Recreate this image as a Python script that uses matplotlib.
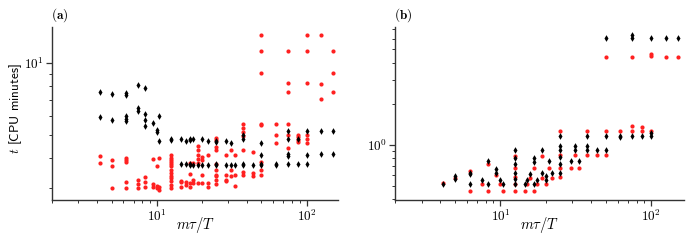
import math

import matplotlib
matplotlib.use("Agg")
import matplotlib.pyplot as plt
from matplotlib.ticker import LogLocator, NullFormatter, FuncFormatter

plt.rcParams["mathtext.fontset"] = "cm"

# panel (a): x columns (m tau / T) and CPU minutes at each column
a_x = [4.17, 5.0, 6.25, 7.5, 8.33, 9.4, 10.0, 10.4, 12.5, 14.6, 15.6, 16.7, 17.4,
       18.75, 20.0, 21.9, 25.0, 29.2, 31.2, 33.3, 37.5, 43.75, 50.0, 62.5, 75.0,
       87.5, 100.0, 125.0, 150.0]
a_black = [
    [7.6, 5.93], [7.4, 5.78], [7.5, 7.35, 5.97, 5.82, 5.69], [8.1, 6.48, 6.32],
    [7.9, 6.12, 5.78, 5.47], [5.63], [5.25, 5.16], [5.97, 4.69], [4.8, 4.75],
    [4.8, 3.77], [4.72, 3.77], [4.8, 4.75, 3.77, 3.73], [4.78, 3.73], [3.73],
    [4.78, 3.73], [4.72, 3.73], [4.72, 4.68, 3.77, 3.73], [4.69, 3.73], [4.62, 3.73],
    [3.73], [5.0, 4.78, 3.77, 3.73], [3.73], [4.62, 4.1, 3.77, 3.73], [3.76, 3.73],
    [5.18, 4.79, 4.16, 4.08, 3.78], [4.79, 3.77], [5.21, 4.12, 3.77], [5.21, 4.15],
    [5.21, 4.14],
]
a_red = [
    [4.08, 3.8], [3.93, 3.7, 3.0], [4.0, 3.93, 3.83, 3.18, 3.0], [3.24, 3.11, 3.0],
    [3.32, 3.16, 3.03], [3.95, 3.11, 3.03], [3.7, 3.06, 3.0], [4.0, 3.03, 2.92],
    [4.12, 4.0, 3.93, 3.83, 3.78, 3.7, 3.56, 3.45, 3.36, 3.29, 3.21, 3.08, 3.0],
    [3.2, 3.16, 3.03], [3.17, 3.08], [3.8, 3.42, 3.13, 3.03], [3.8, 3.24, 3.13],
    [4.5, 4.3, 4.12, 3.95, 3.8, 3.13], [4.05, 3.9, 3.38, 3.13], [4.12, 3.13, 3.03],
    [4.85, 4.77, 4.43, 4.33, 3.77, 3.56, 3.4, 3.36, 3.24, 3.1], [4.12, 3.4, 3.24, 3.2],
    [4.33, 3.56, 3.36], [4.12, 3.4, 3.05], [5.57, 5.35, 5.15, 4.95, 4.33, 3.5, 3.4],
    [4.22, 3.45, 3.36], [13.1, 11.3, 9.1, 5.57, 5.52, 3.85, 3.56, 3.38],
    [5.57, 5.0, 4.6], [11.3, 8.24, 7.55, 5.57, 5.0, 4.38], [5.0, 4.9, 4.77, 4.66],
    [13.1, 11.3, 8.24, 5.0, 4.8, 4.6], [13.1, 8.2, 7.06], [11.3, 9.1, 7.55],
]

# panel (b)
b_x = [4.17, 5.0, 6.25, 7.5, 8.33, 9.4, 10.0, 10.4, 12.5, 14.6, 15.0, 15.7, 16.6,
       17.5, 18.9, 20.1, 20.9, 22.0, 25.0, 29.2, 31.2, 33.3, 37.5, 43.75, 50.0,
       62.5, 75.0, 87.5, 100.0, 125.0, 150.0]
b_black = [
    [0.52], [0.59, 0.567], [0.623, 0.617, 0.514], [0.551], [0.761, 0.52],
    [0.664, 0.623], [0.551], [0.52], [0.918, 0.797, 0.72, 0.623, 0.567, 0.52],
    [0.514], [0.551], [0.61], [0.797, 0.752, 0.52], [0.551], [0.918, 0.623],
    [0.59, 0.551], [0.761], [0.623], [1.166, 0.983, 0.918, 0.819, 0.723, 0.623],
    [0.761], [0.983, 0.918], [0.761], [1.166, 0.983, 0.918], [0.918],
    [6.1, 1.166, 0.918], [1.166, 1.145], [6.4, 6.1, 1.166], [1.166],
    [6.1, 1.22, 1.166], [6.1], [6.1],
]
b_red = [
    [0.526], [0.573], [0.645, 0.459], [0.52], [0.723, 0.459], [0.6], [0.52], [0.459],
    [0.833, 0.672, 0.582, 0.514, 0.459], [0.459], [0.514], [0.576], [0.672, 0.459],
    [0.514], [0.833, 0.576], [0.52], [0.679], [0.576], [1.255, 0.843, 0.679, 0.582],
    [0.679], [0.843], [0.679], [1.255, 0.843], [0.843], [4.39, 1.255, 0.843],
    [1.255], [4.39, 1.366, 1.27], [1.35, 1.255], [4.6, 4.5, 1.255], [4.39], [4.39],
]


def flat(xs, cols):
    px = [x for x, c in zip(xs, cols) for _ in c]
    py = [y for c in cols for y in c]
    return px, py


def decade(v, pos):
    return r"$10^{%d}$" % round(math.log10(v))


fig = plt.figure(figsize=(6.92, 2.42), dpi=100)
ax1 = fig.add_axes([0.0751, 0.1736, 0.4133, 0.7149])
ax2 = fig.add_axes([0.5708, 0.1736, 0.4176, 0.7149])

panels = [(ax1, a_x, a_black, a_red, (2.66, 14.2), (2, 162), "(a)"),
          (ax2, b_x, b_black, b_red, (0.395, 7.3), (2, 165), "(b)")]

for ax, xs, blk, red, ylim, xlim, tag in panels:
    bx, by = flat(xs, blk)
    rx, ry = flat(xs, red)
    ax.plot(rx, ry, "o", color="#ff2020", ms=3.0, mec="none")
    ax.plot(bx, by, "d", color="black", ms=3.4, mec="none")
    ax.set_xscale("log")
    ax.set_yscale("log")
    ax.set_xlim(*xlim)
    ax.set_ylim(*ylim)
    for axis in (ax.xaxis, ax.yaxis):
        axis.set_major_locator(LogLocator(base=10))
        axis.set_minor_locator(LogLocator(base=10, subs=range(2, 10)))
        axis.set_major_formatter(FuncFormatter(decade))
        axis.set_minor_formatter(NullFormatter())
    for s in ("top", "right"):
        ax.spines[s].set_visible(False)
    for s in ("left", "bottom"):
        ax.spines[s].set_color("#333333")
        ax.spines[s].set_linewidth(1.0)
    ax.tick_params(which="major", length=4, width=0.9, color="#333333", labelsize=9.5, pad=2)
    ax.tick_params(which="minor", length=2.5, width=0.7, color="#333333")
    ax.set_xlabel(r"$m\tau/T$", fontsize=10.5, va="center")
    ax.xaxis.set_label_coords(0.5, -0.145)
    ax.text(-0.005, 1.02, r"$\mathbf{%s}$" % tag, transform=ax.transAxes,
            fontsize=9.5, ha="left", va="bottom")

ax1.set_ylabel(r"$t$ [CPU minutes]", fontsize=9.5, va="center",
               family=["cmss10", "DejaVu Sans"])
ax1.yaxis.set_label_coords(-0.128, 0.526)

fig.savefig("out.png", dpi=100)
